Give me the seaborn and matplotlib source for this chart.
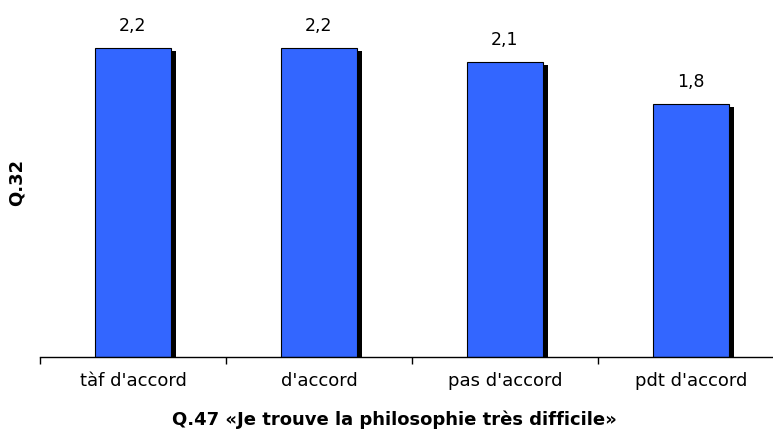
import matplotlib
matplotlib.use("Agg")
import matplotlib.pyplot as plt
import matplotlib.patheffects as pe
import seaborn as sns
import pandas as pd

categories = ["tàf d'accord", "d'accord", "pas d'accord", "pdt d'accord"]
values = [2.2, 2.2, 2.1, 1.8]
value_labels = ["2,2", "2,2", "2,1", "1,8"]

sns.set_theme(style="white")
plt.rcParams['font.family'] = ['DejaVu Sans']
plt.rcParams['text.color'] = 'black'

W, H = 773, 438
fig = plt.figure(figsize=(W / 100, H / 100), dpi=100)
left, right, bottom, top = 40, 784, 357, 10
ax = fig.add_axes([left / W, (H - bottom) / H, (right - left) / W, (bottom - top) / H])

df = pd.DataFrame({"cat": categories, "val": values})
sns.barplot(data=df, x="cat", y="val", color="#3366FF", saturation=1, width=0.41,
            edgecolor="black", linewidth=0.8, ax=ax)
for p in ax.patches:
    p.set_path_effects([pe.SimplePatchShadow(offset=(3.5, -2), shadow_rgbFace="black", alpha=1), pe.Normal()])

ax.set_ylim(0, 2.47)
ax.set_xlim(-0.5, 3.5)
for i, (v, lab) in enumerate(zip(values, value_labels)):
    ax.text(i, v + 0.09, lab, ha="center", va="bottom", fontsize=12.5, color="black")

for s in ["top", "right", "left"]:
    ax.spines[s].set_visible(False)
ax.spines["bottom"].set_color("black")
ax.spines["bottom"].set_linewidth(1)
ax.set_yticks([])
ax.set_xticks(range(len(categories)))
ax.set_xticklabels(categories, fontsize=13, color="black")
ax.tick_params(axis="x", which="major", length=0, pad=11)
ax.set_xticks([-0.5, 0.5, 1.5, 2.5, 3.5], minor=True)
ax.tick_params(axis="x", which="minor", length=5, width=1, color="black", direction="out", bottom=True)
ax.set_xlabel("")
ax.set_ylabel("")
fig.text(394 / W, (H - 420) / H, "Q.47 «Je trouve la philosophie très difficile»",
         ha="center", va="center", fontsize=13, fontweight="bold", color="black")
fig.text(17 / W, (H - 182) / H, "Q.32", rotation=90, ha="center", va="center",
         fontsize=13, fontweight="bold", color="black")

fig.savefig("out.png", dpi=100)
